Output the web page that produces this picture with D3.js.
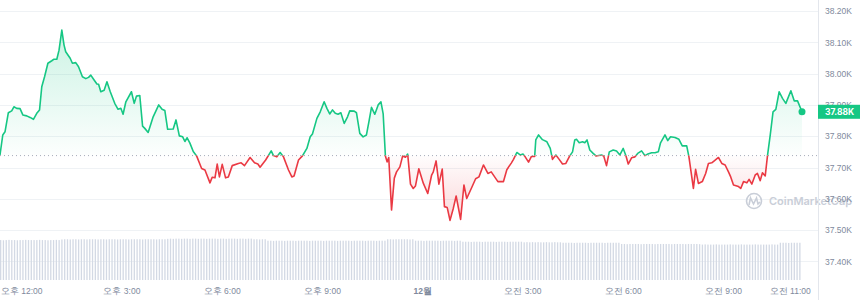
<!DOCTYPE html>
<html>
<head>
<meta charset="utf-8">
<script src="https://cdn.jsdelivr.net/npm/d3@7"></script>
<style>
  body { margin: 0; background: #fff; }
  svg { display: block; font-family: Inter, "Noto Sans CJK KR", sans-serif; }
</style>
</head>
<body>
<svg id="chart" width="860" height="300"></svg>
<script>
// 24h window, Dec 11 11:22 -> Dec 12 11:22
var startTime = new Date(2023, 11, 11, 11, 22);

// price vertices: minutes after startTime, price in USD
var priceMinutes = [
  0, 5, 9, 15, 21, 25, 30, 36, 41, 48, 54, 60, 66, 71, 75, 80, 86, 93, 97, 102,
  106, 111, 115, 118, 126, 130, 136, 141, 148, 154, 159, 163, 168, 174, 177, 181, 187, 192, 198, 206,
  212, 217, 221, 226, 236, 241, 245, 251, 256, 260, 266, 275, 285, 291, 296, 301, 311, 316, 322, 328,
  332, 336, 341, 347, 353, 362, 368, 377, 381, 386, 390, 394, 399, 405, 410, 417, 428, 433, 439, 449,
  457, 463, 467, 477, 487, 491, 497, 503, 509, 518, 524, 528, 536, 543, 551, 557, 561, 569, 575, 582,
  587, 592, 597, 602, 607, 612, 618, 624, 628, 636, 640, 646, 652, 658, 663, 667, 673, 679, 684, 688,
  692, 695, 698, 703, 708, 712, 718, 723, 728, 732, 737, 742, 746, 752, 760, 768, 775, 778, 783, 788,
  794, 798, 803, 808, 814, 819, 827, 833, 838, 847, 854, 860, 868, 876, 882, 894, 904, 910, 918, 922,
  928, 934, 939, 943, 949, 954, 960, 962, 967, 974, 982, 988, 992, 998, 1004, 1010, 1016, 1023, 1028, 1032,
  1035, 1040, 1046, 1050, 1054, 1059, 1065, 1070, 1080, 1084, 1089, 1094, 1101, 1107, 1113, 1119, 1124, 1128, 1134, 1140,
  1145, 1152, 1158, 1162, 1170, 1176, 1182, 1186, 1194, 1199, 1204, 1212, 1219, 1225, 1233, 1237, 1245, 1249, 1254, 1261,
  1267, 1272, 1278, 1283, 1290, 1296, 1302, 1308, 1312, 1317, 1326, 1330, 1335, 1341, 1345, 1350, 1356, 1360, 1365, 1369,
  1374, 1378, 1383, 1388, 1393, 1399, 1405, 1411, 1420, 1426, 1432, 1440
];
var prices = [
  37740, 37804, 37814, 37875, 37881, 37894, 37889, 37888, 37868, 37865, 37860, 37854, 37873, 37884, 37958, 37990, 38033, 38041, 38046, 38046,
  38075, 38139, 38091, 38070, 38049, 38033, 38035, 38022, 37990, 37984, 37988, 37995, 37982, 37967, 37966, 37942, 37947, 37974, 37942, 37905,
  37886, 37889, 37870, 37910, 37942, 37905, 37928, 37930, 37832, 37825, 37812, 37862, 37900, 37886, 37882, 37822, 37823, 37852, 37801, 37798,
  37783, 37795, 37778, 37751, 37737, 37697, 37692, 37651, 37669, 37667, 37711, 37670, 37710, 37667, 37670, 37706, 37713, 37715, 37706, 37732,
  37715, 37711, 37701, 37724, 37753, 37738, 37734, 37748, 37734, 37692, 37670, 37673, 37724, 37737, 37761, 37798, 37807, 37857, 37878, 37910,
  37889, 37871, 37884, 37873, 37870, 37875, 37841, 37862, 37881, 37880, 37875, 37809, 37798, 37804, 37852, 37892, 37870, 37900, 37910, 37871,
  37737, 37718, 37732, 37564, 37666, 37686, 37702, 37737, 37733, 37743, 37647, 37633, 37641, 37696, 37650, 37617, 37676, 37686, 37721, 37647,
  37695, 37575, 37572, 37531, 37570, 37609, 37534, 37644, 37601, 37636, 37664, 37670, 37708, 37681, 37686, 37655, 37655, 37693, 37714, 37726,
  37748, 37740, 37743, 37734, 37717, 37735, 37735, 37788, 37804, 37789, 37782, 37761, 37726, 37740, 37726, 37711, 37713, 37737, 37750, 37788,
  37790, 37779, 37782, 37779, 37788, 37756, 37745, 37737, 37740, 37737, 37706, 37750, 37756, 37753, 37740, 37761, 37737, 37711, 37731, 37734,
  37745, 37753, 37738, 37742, 37747, 37747, 37750, 37779, 37804, 37786, 37798, 37796, 37790, 37769, 37769, 37734, 37633, 37694, 37649, 37655,
  37681, 37713, 37715, 37722, 37732, 37713, 37708, 37686, 37670, 37644, 37639, 37633, 37655, 37651, 37662, 37647, 37676, 37681, 37658, 37683,
  37673, 37737, 37804, 37878, 37886, 37942, 37921, 37905, 37945, 37913, 37913, 37878
];

// 24h volume, one bar per 5 minutes (billions)
var volumes = [
  19.5,19.4,19.5,19.6,19.5,19.5,19.4,19.5,19.5,19.6,19.5,19.5,
  19.5,19.5,19.6,19.5,19.5,19.4,19.5,19.5,19.6,19.5,19.8,19.9,
  19.9,19.8,19.9,19.9,19.8,19.9,19.9,19.8,19.9,19.9,19.9,19.8,
  19.9,19.9,19.8,19.9,19.9,19.9,19.8,19.9,19.9,19.9,19.8,19.9,
  19.9,19.9,19.9,19.8,19.9,19.9,19.9,19.9,19.8,19.9,19.9,19.9,
  20.1,20.2,20.1,20.2,20.2,20.1,20.2,20.2,20.1,20.2,20.2,20.1,
  20.2,20.2,20.1,20.2,20.2,20.2,20.1,20.2,20.2,20.1,20.2,20.2,
  20.2,20.1,20.2,20.2,20.1,20.2,20.2,19.9,19.9,19.8,19.9,19.9,
  19.2,19.2,19.1,19.2,19.2,19.2,19.1,19.2,19.2,19.2,19.1,19.2,
  19.2,19.2,19.2,19.1,19.2,19.2,19.2,19.2,19.1,19.2,19.2,19.2,
  19.2,19.1,19.2,19.2,19.2,19.2,19.1,19.2,19.2,19.2,19.2,19.1,
  19.2,19.2,19.2,19.1,19.2,19.2,19.2,19.9,19.9,19.8,19.9,19.9,
  19.9,19.9,19.9,19.8,19.9,19.2,19.2,19.2,19.1,19.2,19.2,19.2,
  19.2,19.2,19.1,19.2,19.2,19.2,19.2,19.1,19.2,19.2,18.7,18.7,
  18.7,18.6,18.7,18.7,18.7,18.6,18.7,18.7,18.7,18.7,18.6,18.7,
  18.7,18.7,18.6,18.7,18.7,18.7,18.7,18.7,18.4,18.5,18.4,18.5,
  18.4,18.5,18.4,18.4,18.5,18.4,18.4,18.5,18.4,18.4,18.2,18.2,
  18.2,18.2,18.1,18.2,18.2,18.2,18.2,18.1,18.2,18.2,18.2,18.2,
  18.2,18.1,18.2,18.2,18.2,18.2,18.2,17.6,17.6,17.5,17.6,17.6,
  17.6,17.6,17.5,17.6,17.6,17.6,17.6,17.5,17.6,17.6,17.6,17.6,
  17.6,17.5,17.6,17.6,17.6,17.6,17.5,17.6,17.6,17.6,17.6,17.5,
  17.3,17.4,17.3,17.3,17.3,17.4,17.3,17.3,17.3,17.3,17.4,17.3,
  17.3,17.3,17.4,17.3,17.3,17.3,17.3,17.4,17.3,17.3,17.3,17.3,
  17.3,17.4,17.3,17.3,18.2,18.2,18.2,18.1,18.2,18.2,18.2,18.2
];

var basePrice = 37738;
var yTicks = [37400, 37500, 37600, 37700, 37800, 37900, 38000, 38100, 38200];
var xTicks = [
  new Date(2023, 11, 11, 12), new Date(2023, 11, 11, 15), new Date(2023, 11, 11, 18),
  new Date(2023, 11, 11, 21), new Date(2023, 11, 12, 0), new Date(2023, 11, 12, 3),
  new Date(2023, 11, 12, 6), new Date(2023, 11, 12, 9), new Date(2023, 11, 12, 11)
];
var xTickLabels = ["오후 12:00", "오후 3:00", "오후 6:00", "오후 9:00", "12월", "오전 3:00", "오전 6:00", "오전 9:00", "오전 11:00"];

var green = "#16c784", red = "#ea3943";
var plotRight = 818;

var data = priceMinutes.map(function(m, i) {
  return { t: new Date(startTime.getTime() + m * 60000), p: prices[i] };
});
var last = data[data.length - 1];

var svg = d3.select("#chart");

var x = d3.scaleTime()
  .domain([startTime, new Date(startTime.getTime() + 1440 * 60000)])
  .range([0, 802]);
var y = d3.scaleLinear().domain([37400, 38200]).range([261.4, 11]);
var yVol = d3.scaleLinear().domain([0, 21]).range([280, 237]);
var baseY = y(basePrice);

var defs = svg.append("defs");
var gGreen = defs.append("linearGradient").attr("id", "gradGreen")
  .attr("gradientUnits", "userSpaceOnUse")
  .attr("x1", 0).attr("x2", 0).attr("y1", y(d3.max(prices))).attr("y2", baseY);
gGreen.append("stop").attr("offset", 0).attr("stop-color", green).attr("stop-opacity", 0.22);
gGreen.append("stop").attr("offset", 1).attr("stop-color", green).attr("stop-opacity", 0.01);
var gRed = defs.append("linearGradient").attr("id", "gradRed")
  .attr("gradientUnits", "userSpaceOnUse")
  .attr("x1", 0).attr("x2", 0).attr("y1", baseY).attr("y2", y(d3.min(prices)));
gRed.append("stop").attr("offset", 0).attr("stop-color", red).attr("stop-opacity", 0.01);
gRed.append("stop").attr("offset", 1).attr("stop-color", red).attr("stop-opacity", 0.2);

defs.append("clipPath").attr("id", "clipAbove")
  .append("rect").attr("x", 0).attr("y", 0).attr("width", plotRight).attr("height", baseY);
defs.append("clipPath").attr("id", "clipBelow")
  .append("rect").attr("x", 0).attr("y", baseY).attr("width", plotRight).attr("height", 300 - baseY);

// grid lines
svg.append("g").selectAll("line")
  .data(yTicks)
  .join("line")
  .attr("x1", 0).attr("x2", plotRight)
  .attr("y1", function(d) { return Math.round(y(d)) + 0.5; })
  .attr("y2", function(d) { return Math.round(y(d)) + 0.5; })
  .attr("stroke", "#eff2f5");

// watermark
var wm = svg.append("g").attr("fill", "none").attr("stroke", "#c9ced8").attr("stroke-width", 1.6);
wm.append("circle").attr("cx", 754).attr("cy", 201).attr("r", 7.5);
wm.append("path").attr("d", "M749,205 L750.5,198 L753.5,204 L756.5,198 L758,204 L760,202");
svg.append("text").attr("x", 769).attr("y", 205)
  .attr("font-size", 11).attr("font-weight", 600).attr("fill", "#c9ced8")
  .text("CoinMarketCap");

// volume bars
svg.append("g").selectAll("rect")
  .data(volumes)
  .join("rect")
  .attr("x", function(d, i) { return x(new Date(startTime.getTime() + i * 5 * 60000)); })
  .attr("y", function(d) { return yVol(d); })
  .attr("width", 1.3)
  .attr("height", function(d) { return yVol(0) - yVol(d); })
  .attr("fill", "#d3d9e4");

var area = d3.area()
  .x(function(d) { return x(d.t); })
  .y0(baseY)
  .y1(function(d) { return y(d.p); });
var line = d3.line()
  .x(function(d) { return x(d.t); })
  .y(function(d) { return y(d.p); });

svg.append("path").datum(data).attr("d", area)
  .attr("clip-path", "url(#clipAbove)").attr("fill", "url(#gradGreen)");
svg.append("path").datum(data).attr("d", area)
  .attr("clip-path", "url(#clipBelow)").attr("fill", "url(#gradRed)");

// reference price
svg.append("line")
  .attr("x1", 0).attr("x2", plotRight).attr("y1", baseY).attr("y2", baseY)
  .attr("stroke", "#a6acb9").attr("stroke-dasharray", "1,3");

svg.append("path").datum(data).attr("d", line)
  .attr("clip-path", "url(#clipAbove)")
  .attr("fill", "none").attr("stroke", green).attr("stroke-width", 1.6).attr("stroke-linejoin", "round");
svg.append("path").datum(data).attr("d", line)
  .attr("clip-path", "url(#clipBelow)")
  .attr("fill", "none").attr("stroke", red).attr("stroke-width", 1.6).attr("stroke-linejoin", "round");

svg.append("circle").attr("cx", x(last.t)).attr("cy", y(last.p)).attr("r", 3.5).attr("fill", green);

// right axis
svg.append("line").attr("x1", plotRight + 0.5).attr("x2", plotRight + 0.5)
  .attr("y1", 0).attr("y2", 300).attr("stroke", "#e3e6ec");

var yAxis = svg.append("g")
  .attr("transform", "translate(" + plotRight + ",0)")
  .call(d3.axisRight(y).tickValues(yTicks).tickSize(0).tickPadding(7)
    .tickFormat(function(d) { return (d / 1000).toFixed(2) + "K"; }));
yAxis.select(".domain").remove();
yAxis.selectAll("text").attr("font-size", 8.5).attr("fill", "#808a9d").attr("font-family", null);

// current price tag
svg.append("rect").attr("x", plotRight).attr("y", y(last.p) - 7)
  .attr("width", 42).attr("height", 14).attr("fill", green);
svg.append("text").attr("x", plotRight + 7).attr("y", y(last.p)).attr("dy", "0.35em")
  .attr("font-size", 8.5).attr("font-weight", 700).attr("fill", "#fff")
  .text((last.p / 1000).toFixed(2) + "K");

// time axis
var xAxis = svg.append("g")
  .attr("transform", "translate(0,280)")
  .call(d3.axisBottom(x).tickValues(xTicks).tickSize(0).tickPadding(8)
    .tickFormat(function(d, i) { return xTickLabels[i]; }));
xAxis.select(".domain").remove();
xAxis.selectAll("text").attr("font-size", 8.5).attr("fill", "#808a9d").attr("font-family", null)
  .attr("font-weight", function(d, i) { return xTickLabels[i] == "12월" ? 700 : 400; });
</script>
</body>
</html>
